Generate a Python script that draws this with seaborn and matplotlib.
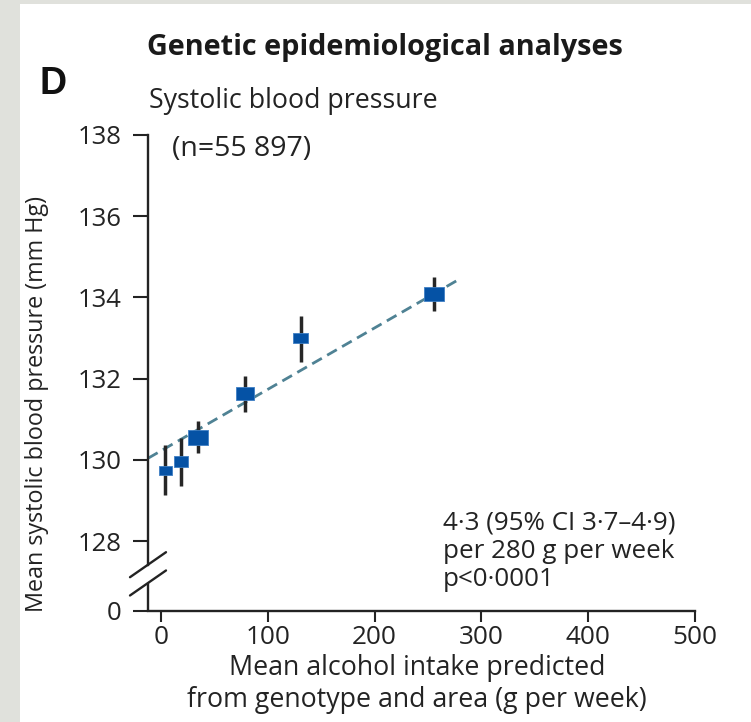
import numpy as np
import pandas as pd
import matplotlib
matplotlib.use("Agg")
import matplotlib.pyplot as plt
from matplotlib.path import Path
import seaborn as sns

# ---------------- data ----------------
alcohol_g_week = [4, 19, 35, 79, 131, 256]
sbp_mean = [129.74, 129.96, 130.55, 131.63, 133.00, 134.08]
sbp_lower = [129.13, 129.37, 130.16, 131.19, 132.42, 133.67]
sbp_upper = [130.36, 130.55, 130.97, 132.07, 133.55, 134.50]
marker_width_px = [13, 14, 20, 18, 15, 20]

fit_x = [-12.2, 278]
fit_y = [130.04, 134.43]

x_ticks = [0, 100, 200, 300, 400, 500]
y_ticks_upper = [128, 130, 132, 134, 136, 138]
y_tick_labels = ["0", "128", "130", "132", "134", "136", "138"]

title = "Genetic epidemiological analyses"
panel_letter = "D"
subtitle = "Systolic blood pressure"
n_text = "(n=55 897)"
annot_lines = ["4\u00b73 (95% CI 3\u00b77\u20134\u00b79)", "per 280 g per week", "p<0\u00b70001"]
xlabel = "Mean alcohol intake predicted\nfrom genotype and area (g per week)"
ylabel = "Mean systolic blood pressure (mm Hg)"

# ---------------- style ----------------
sns.set_theme(style="white")
plt.rcParams["font.family"] = ["Open Sans", "DejaVu Sans"]
TEXT = "#232323"
BLUE = "#0552a5"
DASH = "#4f8294"

W, H = 751, 722
fig = plt.figure(figsize=(W / 100, H / 100), dpi=100)
fig.patch.set_facecolor("white")

# grey frame on left and top
fig.patches.append(plt.Rectangle((0, 0), 20 / W, 1, transform=fig.transFigure,
                                 facecolor="#e0e1dc", edgecolor="none", zorder=0))
fig.patches.append(plt.Rectangle((0, 1 - 4 / H), 1, 4 / H, transform=fig.transFigure,
                                 facecolor="#e0e1dc", edgecolor="none", zorder=0))

# axes placement (pixel based)
ax_left, ax_right, ax_top, ax_bottom = 148, 695, 135, 611
ax = fig.add_axes([ax_left / W, 1 - ax_bottom / H, (ax_right - ax_left) / W, (ax_bottom - ax_top) / H])
ax.set_facecolor("none")

y_zero_pos = 126.28  # where the broken-axis "0" sits
ax.set_xlim(-12.2, 500)
ax.set_ylim(y_zero_pos, 138)

df = pd.DataFrame({"x": alcohol_g_week, "y": sbp_mean, "lo": sbp_lower, "hi": sbp_upper})

# fitted dashed line
sns.lineplot(x=fit_x, y=fit_y, ax=ax, color=DASH, lw=2.0, zorder=2)
ax.lines[-1].set_dashes((4, 2.2))

# error bars
ax.vlines(df["x"], df["lo"], df["hi"], color="#262626", lw=2.5, zorder=3)

# rectangular markers
rect = Path([(-1, -0.72), (1, -0.72), (1, 0.72), (-1, 0.72), (-1, -0.72)],
            [Path.MOVETO, Path.LINETO, Path.LINETO, Path.LINETO, Path.CLOSEPOLY])
sizes = [(w / 1.389) ** 2 for w in marker_width_px]
sns.scatterplot(data=df, x="x", y="y", ax=ax, marker=rect, s=sizes, color=BLUE,
                edgecolor="#3f7fc4", linewidth=0.6, zorder=4, legend=False)

# axes styling
for side in ["top", "right"]:
    ax.spines[side].set_visible(False)
for side in ["left", "bottom"]:
    ax.spines[side].set_color(TEXT)
    ax.spines[side].set_linewidth(1.7)
ax.spines["left"].set_bounds(127.42, 138)

ytr = ax.get_yaxis_transform()
ax.plot([0, 0], [y_zero_pos, 126.97], transform=ytr, color=TEXT, lw=1.7,
        clip_on=False, solid_capstyle="butt")
dx = 18 / (ax_right - ax_left)
dy = 12.5 / 40.6
for yc in [127.42, 126.97]:
    ax.plot([-dx, dx], [yc - dy, yc + dy], transform=ytr, color=TEXT, lw=1.7, clip_on=False)

ax.set_xticks(x_ticks)
ax.set_xticklabels([str(v) for v in x_ticks])
ax.set_yticks([y_zero_pos] + y_ticks_upper)
ax.set_yticklabels(y_tick_labels)
ax.tick_params(axis="y", direction="out", length=10.8, width=1.5, color=TEXT,
               labelsize=18.5, labelcolor=TEXT, pad=8, left=True)
ax.tick_params(axis="x", direction="out", length=8, width=1.5, color=TEXT,
               labelsize=18.8, labelcolor=TEXT, pad=2, bottom=True)
ax.set_xlabel("")
ax.set_ylabel("")
ax.grid(False)


def ftext(xpx, ypx, s, **kw):
    fig.text(xpx / W, 1 - ypx / H, s, **kw)


ftext(147, 47, title, fontsize=20.8, fontweight="bold", color="#1a1a1a", va="center", ha="left")
ftext(39, 84, panel_letter, fontsize=27, fontweight="bold", color="#111111", va="center", ha="left",
      family=["Liberation Sans", "DejaVu Sans"])
ftext(149, 101, subtitle, fontsize=19.3, color=TEXT, va="center", ha="left")
ftext(172, 149, n_text, fontsize=20.5, color=TEXT, va="center", ha="left")
for i, line in enumerate(annot_lines):
    ftext(443, 523 + i * 28, line, fontsize=18.7, color=TEXT, va="center", ha="left")
ftext(417, 684, xlabel, fontsize=19.3, color=TEXT, va="center", ha="center", linespacing=1.22)
ftext(37, 404, ylabel, fontsize=16.8, color=TEXT, va="center", ha="center", rotation=90)

fig.savefig("out.png", dpi=100, facecolor="white")
